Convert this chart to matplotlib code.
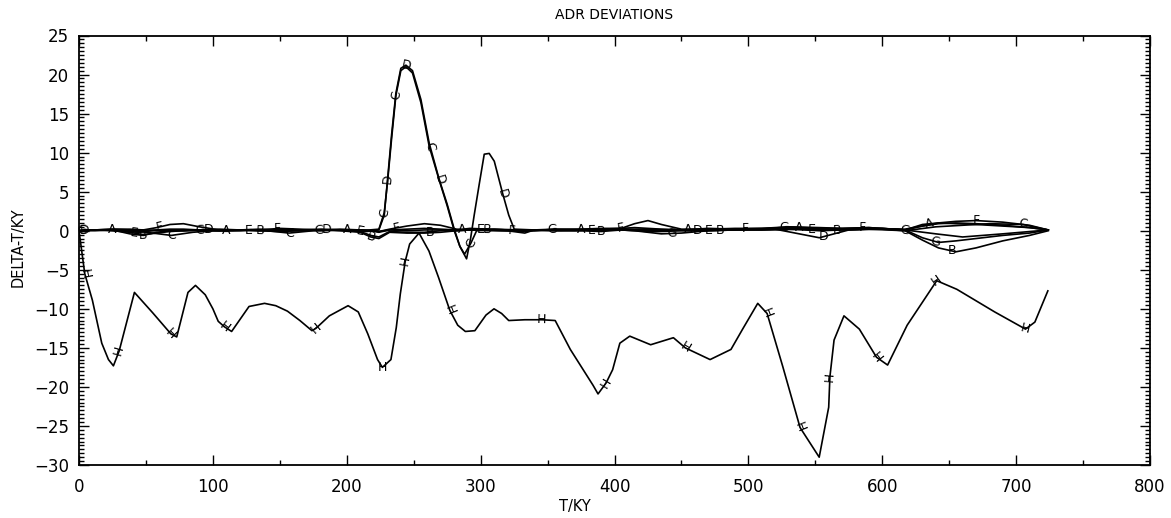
import numpy as np
import matplotlib
matplotlib.use("Agg")
import matplotlib.pyplot as plt
from matplotlib.ticker import MultipleLocator

# ---------------- data ----------------
X_NEAR = [0, 12, 25, 38, 48, 58, 68, 78, 90, 105, 120, 135, 150, 165, 180, 195, 210, 218, 224, 232,
          245, 258, 270, 282, 292, 305, 320, 333, 340, 355, 375, 390, 405, 415, 425, 435, 450, 470, 490, 510,
          530, 553, 570, 590, 617, 630, 642, 655, 670, 690, 710, 724]

Y_A = [0.0, 0.1, 0.2, 0.1, 0.0, 0.1, 0.2, 0.2, 0.1, 0.0,
       0.1, 0.2, 0.1, 0.1, 0.2, 0.1, 0.1, 0.0, -0.2, 0.1,
       0.2, 0.3, 0.2, 0.1, 0.3, 0.2, 0.1, 0.1, 0.1, 0.2,
       0.2, 0.3, 0.3, 0.4, 0.3, 0.2, 0.1, 0.3, 0.2, 0.3,
       0.5, 0.4, 0.3, 0.4, 0.1, 0.8, 1.0, 0.9, 0.8, 0.6,
       0.4, 0.1]
Y_B = [0.0, 0.0, 0.1, -0.4, -0.6, -0.2, 0.0, 0.1, 0.0, 0.0,
       0.1, 0.0, -0.1, 0.0, 0.1, 0.0, -0.2, -0.8, -1.0, -0.2,
       -0.3, -0.3, -0.2, 0.0, 0.1, 0.1, 0.0, -0.1, 0.0, 0.1,
       0.0, -0.1, 0.1, 0.0, -0.1, -0.1, 0.0, 0.0, 0.1, 0.1,
       0.2, 0.0, 0.1, 0.2, 0.0, -1.2, -2.2, -2.7, -2.2, -1.3,
       -0.6, 0.0]
Y_E = [0.0, 0.1, 0.0, -0.2, -0.5, -0.3, -0.1, 0.0, 0.1, 0.0,
       0.0, 0.1, 0.0, 0.1, 0.0, 0.1, -0.1, -0.6, -0.8, -0.1,
       -0.2, -0.2, 0.0, 0.1, 0.1, 0.2, 0.1, 0.0, 0.1, 0.0,
       0.1, 0.0, 0.2, 0.1, 0.0, 0.0, 0.1, 0.1, 0.2, 0.2,
       0.3, 0.1, 0.2, 0.3, 0.2, 0.6, 0.9, 1.0, 0.9, 0.7,
       0.4, 0.1]
Y_F = [0.0, 0.1, 0.2, 0.2, 0.1, 0.4, 0.8, 0.9, 0.5, 0.1,
       0.1, 0.1, 0.3, 0.2, 0.1, 0.1, 0.1, 0.0, -0.1, 0.2,
       0.6, 0.9, 0.7, 0.2, 0.1, 0.1, 0.0, -0.3, 0.1, 0.1,
       0.2, 0.2, 0.3, 0.9, 1.3, 0.8, 0.2, 0.2, 0.3, 0.3,
       0.4, 0.3, 0.3, 0.4, 0.1, 0.6, 1.0, 1.2, 1.3, 1.1,
       0.7, 0.1]
Y_G = [0.0, 0.1, 0.1, 0.0, 0.1, 0.0, 0.1, 0.0, 0.1, 0.2,
       0.1, 0.0, 0.1, 0.0, 0.1, 0.2, 0.1, 0.0, -0.1, 0.1,
       0.0, 0.1, 0.1, 0.0, 0.1, 0.0, 0.0, 0.1, 0.0, 0.2,
       0.1, 0.2, 0.1, 0.0, -0.2, -0.4, -0.3, 0.0, 0.1, 0.2,
       0.5, 0.3, 0.2, 0.3, 0.1, -0.9, -1.5, -1.3, -1.0, -0.6,
       -0.3, 0.1]

X_C = [0, 12, 25, 40, 55, 69, 85, 100, 120, 140,
       157, 175, 195, 210, 224, 228, 230.5, 233.5, 236.7, 240.4,
       244.2, 249.1, 255.4, 261.6, 269, 275, 280.3, 284.5, 288, 292.7,
       297, 310, 330, 360, 390, 420, 450, 480, 510, 540,
       570, 600, 617, 640, 660, 680, 705, 724]
Y_C = [0.0, 0.1, 0.1, 0.0, -0.3, -0.6, -0.2, 0.0, 0.1, 0.0,
       -0.3, 0.0, 0.1, 0.0, 0.2, 2.3, 6.3, 11.8, 17.3, 20.5,
       21.0, 20.2, 16.4, 10.8, 6.5, 3.2, 0.0, -2.0, -3.0, -1.6,
       0.0, 0.2, 0.1, 0.0, 0.1, 0.2, 0.1, 0.2, 0.1, 0.2,
       0.1, 0.2, 0.0, 0.5, 0.7, 0.9, 0.8, 0.1]

X_D = [0, 4, 15, 30, 45, 60, 75, 97, 115, 135,
       155, 175, 185, 200, 215, 224, 228, 230.5, 233.5, 236.7,
       240.4, 244.2, 249.1, 255.4, 261.6, 269, 275, 280.3, 284.5, 289.5,
       292.5, 295.2, 299, 302.7, 306.4, 310.2, 316.4, 321, 325.1, 340,
       370, 400, 430, 460, 490, 520, 553, 575, 600, 617,
       640, 660, 690, 724]
Y_D = [0.0, 0.1, 0.1, 0.0, -0.2, 0.1, 0.0, 0.1, 0.0, 0.1,
       0.0, 0.1, 0.1, 0.0, -0.1, 0.1, 2.0, 6.6, 12.3, 17.6,
       20.8, 21.2, 20.5, 16.8, 11.2, 6.6, 3.4, 0.2, -2.0, -3.6,
       -1.0, 2.0, 6.0, 9.8, 9.9, 8.9, 4.8, 2.0, 0.2, 0.1,
       0.0, 0.2, 0.1, 0.0, 0.1, 0.2, -0.9, 0.1, 0.3, 0.1,
       -0.4, -0.8, -0.4, 0.1]

X_H = [0, 4.3, 10, 17, 22, 25.7, 30, 41.4, 55, 68.6,
       73, 81.4, 87, 94.3, 100, 104, 108.6, 114, 127, 138.6,
       147, 155.7, 165, 174, 177, 187, 201, 208.6, 215.7, 223,
       226.6, 233, 237, 240, 243.7, 247, 254, 261.4, 268.6, 277,
       282.9, 288.6, 295.7, 304, 310, 315.7, 321, 333, 345.7, 355.7,
       367, 384, 387.7, 393.7, 398.6, 404, 411.4, 427, 444, 452.9,
       471.4, 487, 495.7, 507, 514, 525.7, 538.6, 552.9, 560, 560.9,
       564, 571.4, 582.9, 595.7, 604, 618.6, 640.7, 655.7, 684, 707,
       714, 723.7]
Y_H = [0.0, -5.5, -8.9, -14.4, -16.5, -17.3, -15.4, -7.9, -10.5, -13.2,
       -13.6, -7.9, -7.0, -8.2, -10.0, -11.6, -12.3, -12.9, -9.7, -9.3,
       -9.6, -10.3, -11.5, -12.8, -12.5, -10.9, -9.6, -10.4, -13.2, -16.5,
       -17.5, -16.5, -12.4, -8.1, -3.9, -1.7, -0.3, -2.6, -6.0, -10.2,
       -12.1, -12.9, -12.8, -10.8, -10.0, -10.6, -11.5, -11.4, -11.4, -11.5,
       -15.2, -19.8, -20.9, -19.5, -17.8, -14.4, -13.5, -14.6, -13.7, -15.0,
       -16.5, -15.2, -12.6, -9.3, -10.6, -17.4, -25.2, -29.0, -22.6, -18.7,
       -14.0, -10.9, -12.6, -16.2, -17.2, -12.1, -6.4, -7.5, -10.4, -12.6,
       -11.7, -7.7]

LABELS_A = [25, 110, 200, 286, 375, 455, 538, 635]
LABELS_B = [48, 135, 218, 262, 305, 390, 479, 566, 652]
LABELS_C = [69, 157, 228, 236.7, 261.6, 292.7, 705]
LABELS_D = [4, 97, 185, 230.5, 244.2, 269, 316.4, 462, 556]
LABELS_E = [41, 127, 210, 300, 383, 470, 547]
LABELS_F = [60, 148, 237, 323, 405, 498, 585, 670]
LABELS_G = [2, 90, 179, 353, 443, 527, 617, 640]
LABELS_H = [4.3, 30, 68.6, 108.6, 177, 226.6, 243.7, 277, 345.7, 393.7,
            452.9, 514, 538.6, 560.9, 595.7, 640.7, 707]

TITLE = "ADR DEVIATIONS"
XLABEL = "T/KY"
YLABEL = "DELTA-T/KY"

# ---------------- figure ----------------
W, H = 1171, 518
fig = plt.figure(figsize=(W / 100, H / 100), dpi=100)
ax = fig.add_axes([79 / W, 1 - 465 / H, (1150 - 79) / W, (465 - 35.5) / H])
ax.set_xlim(0, 800)
ax.set_ylim(-30, 25)

for s in ax.spines.values():
    s.set_linewidth(1.3)

ax.xaxis.set_major_locator(MultipleLocator(100))
ax.xaxis.set_minor_locator(MultipleLocator(50))
ax.yaxis.set_major_locator(MultipleLocator(5))
ax.yaxis.set_minor_locator(MultipleLocator(0.5))
ax.tick_params(which='both', direction='in', top=True, right=True,
               labeltop=False, labelright=False, width=1.0, labelsize=12)
ax.tick_params(which='major', length=7)
ax.tick_params(which='minor', length=3.5)
ax.tick_params(axis='x', pad=9)
ax.tick_params(axis='y', pad=7)
ax.set_yticks(range(-30, 26, 5))
ax.set_yticklabels([("\u2212" + str(-v)) if v < 0 else str(v) for v in range(-30, 26, 5)])

curves = [
    (X_NEAR, Y_A, LABELS_A, "A"),
    (X_NEAR, Y_B, LABELS_B, "B"),
    (X_NEAR, Y_E, LABELS_E, "E"),
    (X_NEAR, Y_F, LABELS_F, "F"),
    (X_NEAR, Y_G, LABELS_G, "G"),
    (X_C, Y_C, LABELS_C, "C"),
    (X_D, Y_D, LABELS_D, "D"),
    (X_H, Y_H, LABELS_H, "H"),
]

for xs, ys, labs, letter in curves:
    ax.plot(xs, ys, color="black", lw=1.2, solid_joinstyle="round")

fig.canvas.draw()

def angle_at(xs, ys, x0):
    xs = np.asarray(xs, float)
    ys = np.asarray(ys, float)
    j = int(np.argmin(np.abs(xs - x0)))
    a = max(j - 1, 0)
    b = min(j + 1, len(xs) - 1)
    p = ax.transData.transform([(xs[a], ys[a]), (xs[b], ys[b])])
    return np.degrees(np.arctan2(p[1, 1] - p[0, 1], p[1, 0] - p[0, 0]))

for xs, ys, labs, letter in curves:
    for x0 in labs:
        y0 = float(np.interp(x0, xs, ys))
        ang = angle_at(xs, ys, x0)
        ax.text(x0, y0, letter, fontsize=9, ha="center", va="center",
                rotation=ang, rotation_mode="anchor", color="black",
                family="DejaVu Sans")

fig.text(614 / W, 1 - 15 / H, TITLE, ha="center", va="center", fontsize=10)
fig.text(575 / W, 1 - 507 / H, XLABEL, ha="center", va="center", fontsize=10.5)
fig.text(18 / W, 1 - 247 / H, YLABEL, ha="center", va="center", fontsize=10.5, rotation=90)

fig.savefig("out.png", dpi=100, facecolor="white")
